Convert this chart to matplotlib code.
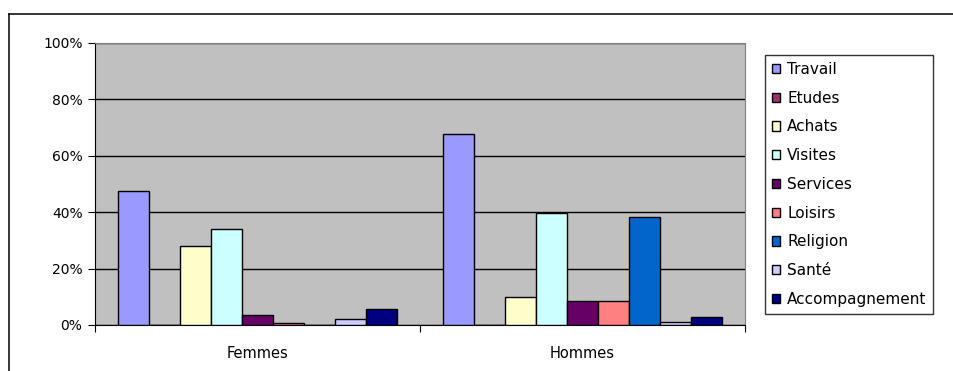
import numpy as np
import matplotlib

matplotlib.use('Agg')

import matplotlib.pyplot as plt
from matplotlib.lines import Line2D

plt.rcParams['font.family'] = ['DejaVu Sans']

# données (en %)
groupes = ["Femmes", "Hommes"]
motifs = ["Travail", "Etudes", "Achats", "Visites", "Services",
          "Loisirs", "Religion", "Santé", "Accompagnement"]
femmes = [47.6, 0.0, 28.1, 34.0, 3.5, 0.7, 0.0, 2.0, 5.6]
hommes = [67.6, 0.0, 9.8, 39.6, 8.5, 8.5, 38.4, 1.2, 2.7]
couleurs = ["#9999FF", "#993366", "#FFFFCC", "#CCFFFF", "#660066",
            "#FF8080", "#0066CC", "#CCCCFF", "#000080"]

W, H = 954, 371
fig = plt.figure(figsize=(W / 100, H / 100), dpi=100)

# cadre du graphique (coupé à droite et en bas)
fig.lines.append(Line2D([9 / W, 9 / W], [0, 1 - 14 / H], transform=fig.transFigure,
                        color='black', linewidth=1.1))
fig.lines.append(Line2D([9 / W, 1], [1 - 14 / H, 1 - 14 / H], transform=fig.transFigure,
                        color='black', linewidth=1.1))

ax = fig.add_axes([95 / W, 1 - 325 / H, 650 / W, 282 / H])
ax.set_facecolor('#C0C0C0')

largeur = 1 / 10.5  # largeur d'intervalle 150 %
x = np.arange(len(groupes))
for i, (motif, c) in enumerate(zip(motifs, couleurs)):
    vals = [femmes[i], hommes[i]]
    pos = x - 4.5 * largeur + (i + 0.5) * largeur
    ax.bar(pos, vals, width=largeur, color=c, edgecolor='black', linewidth=1.0,
           label=motif, zorder=3)

ax.set_xlim(-0.5, 1.5)
ax.set_ylim(0, 100)
ax.set_yticks(range(0, 101, 20))
ax.set_yticklabels([f"{v}%" for v in range(0, 101, 20)], fontsize=10)
ax.yaxis.grid(True, color='black', linewidth=1.0, zorder=1)
ax.set_axisbelow(True)

ax.set_xticks([-0.5, 0.5, 1.5])
ax.set_xticklabels([])
ax.set_xticks(x, minor=True)
ax.set_xticklabels(groupes, minor=True, fontsize=10.5)
ax.tick_params(axis='x', which='minor', length=0, pad=15)
ax.tick_params(axis='x', which='major', length=5, direction='out')
ax.tick_params(axis='y', length=5, direction='out', pad=4)

for s in ['top', 'right']:
    ax.spines[s].set_color('#808080')
ax.spines['left'].set_color('black')
ax.spines['bottom'].set_color('black')

leg = fig.legend(loc='upper left', bbox_to_anchor=(765 / W, 1 - 55 / H),
                 fontsize=11, frameon=True, fancybox=False, edgecolor='black',
                 handlelength=0.55, handleheight=0.55, handletextpad=0.45,
                 labelspacing=0.9, borderpad=0.45, borderaxespad=0)
leg.get_frame().set_linewidth(1.0)

fig.savefig('out.png', dpi=100)
